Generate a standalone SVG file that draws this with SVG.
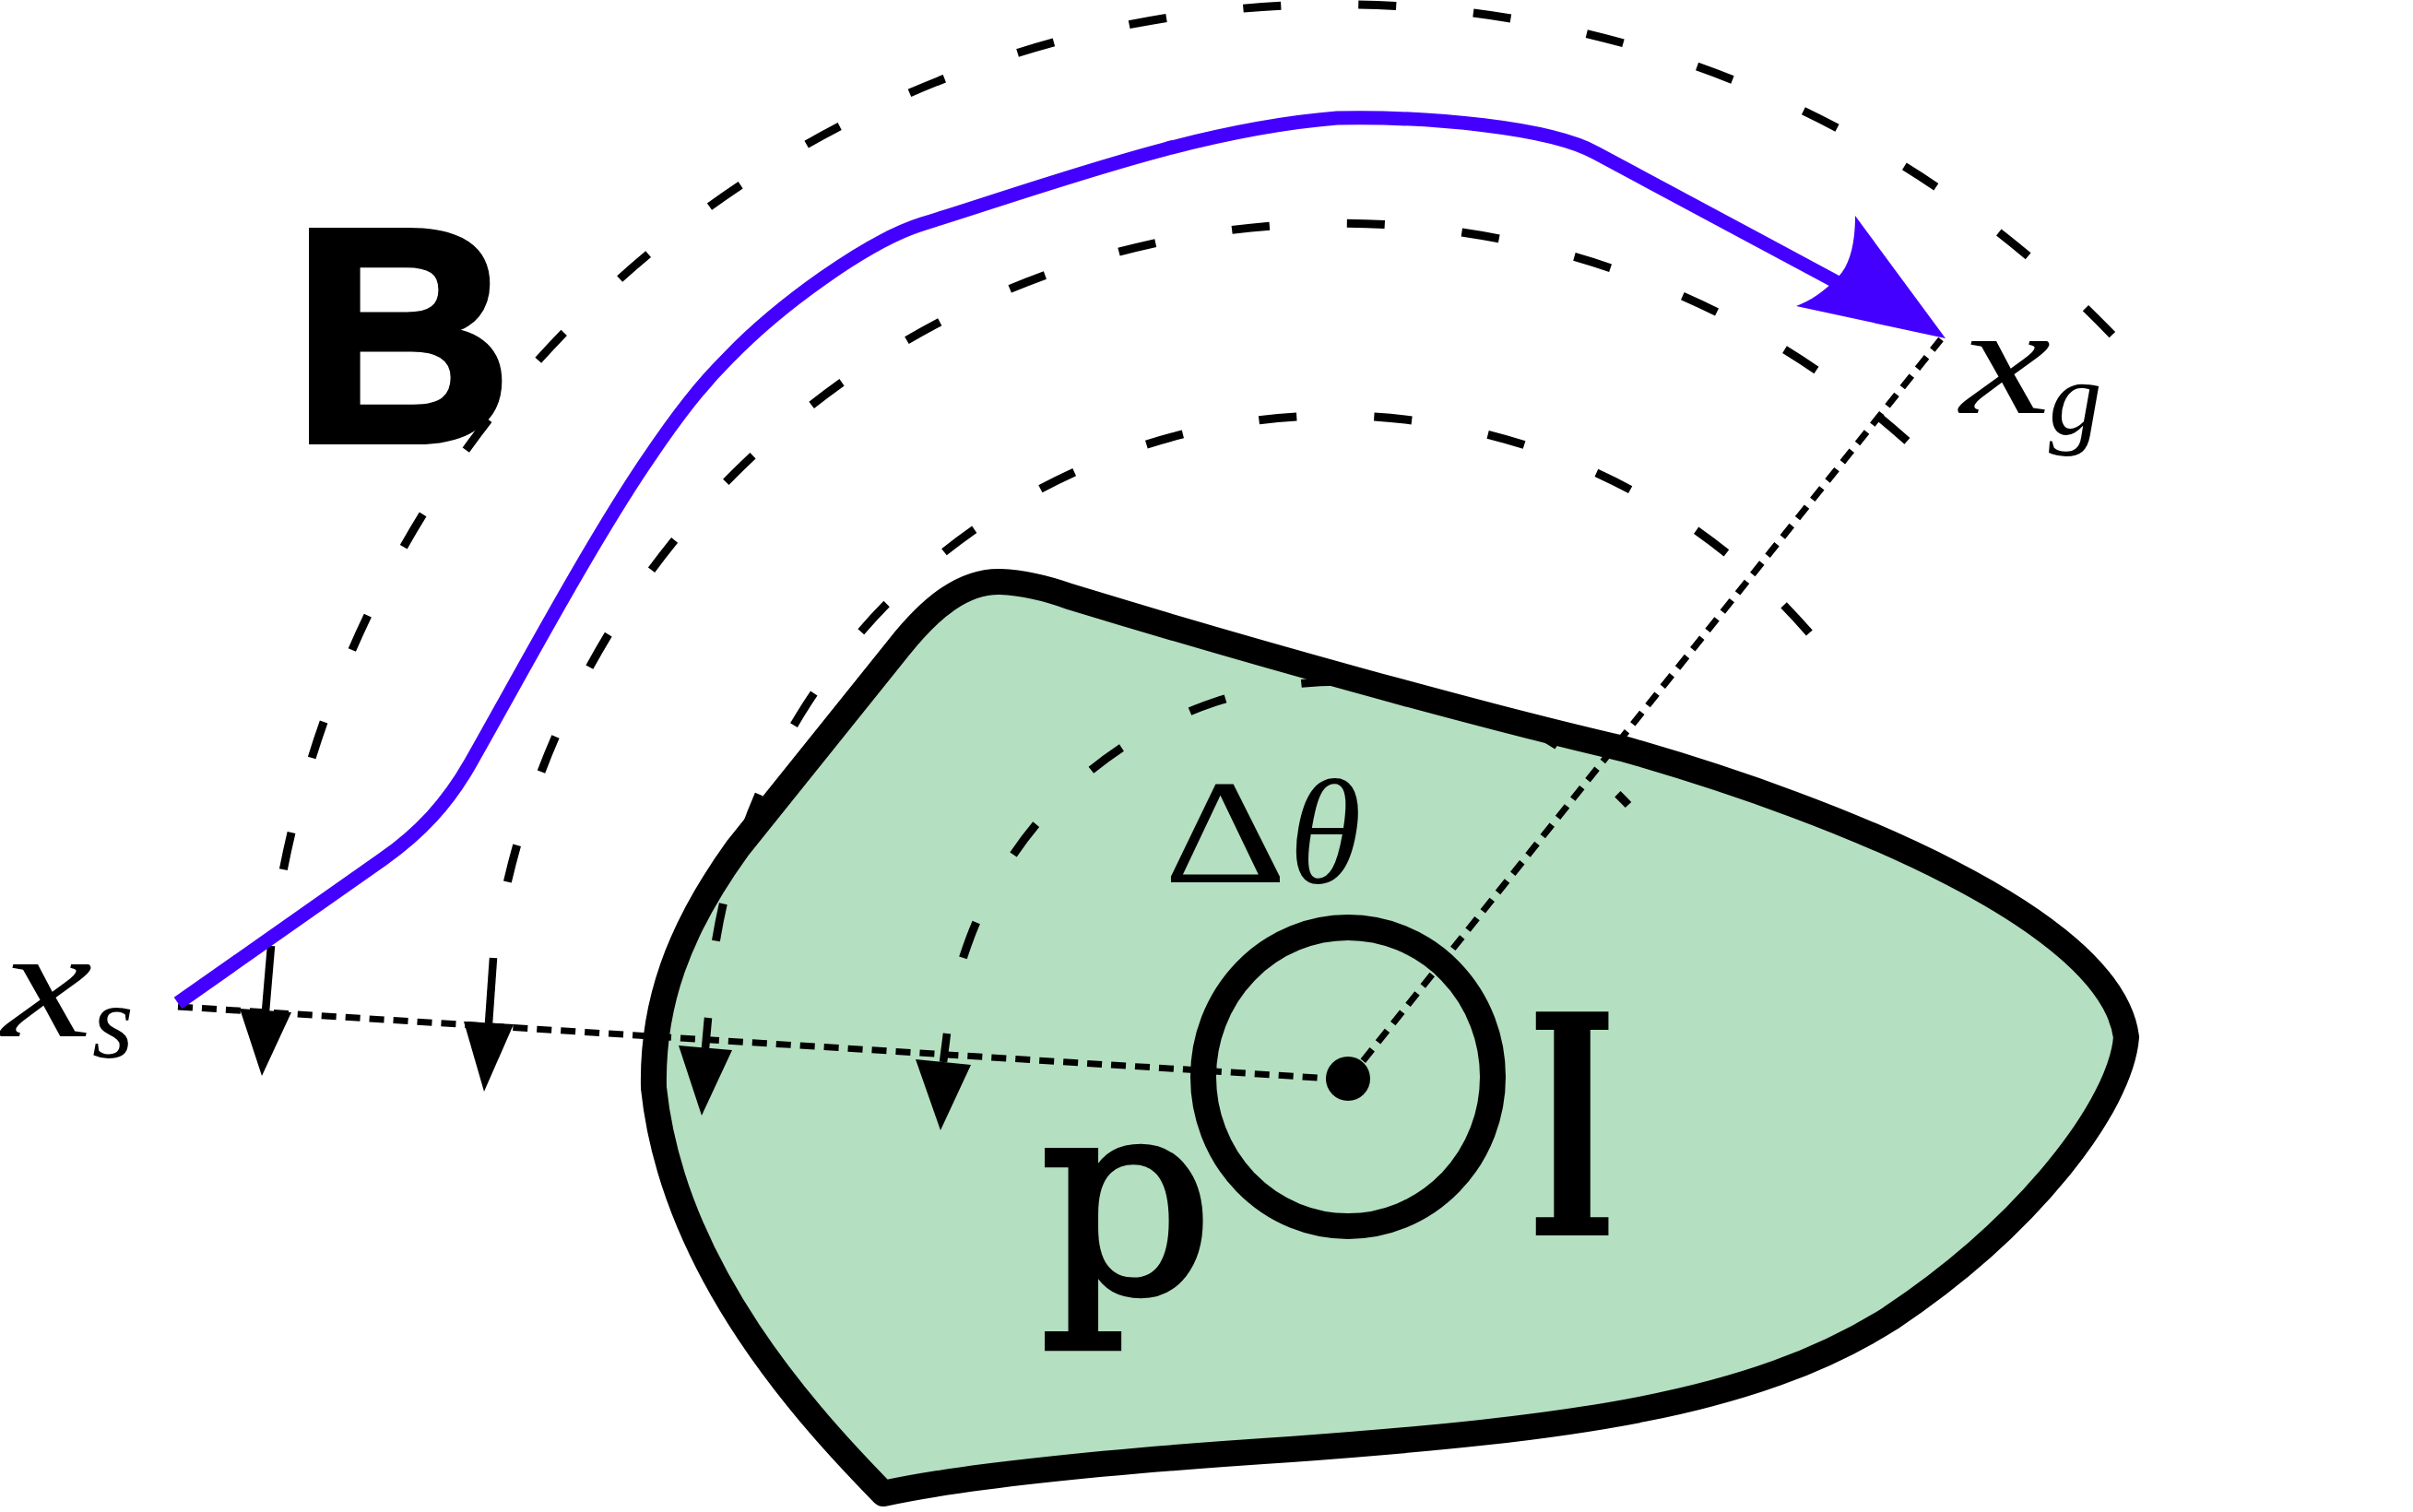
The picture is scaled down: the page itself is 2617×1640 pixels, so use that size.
<svg xmlns="http://www.w3.org/2000/svg" width="2617" height="1640" viewBox="0 0 2617 1640">
<style>
.region{fill:#b4dfc0;stroke:#000;stroke-width:28;stroke-linejoin:round}
.arc{fill:none;stroke:#000;stroke-width:9;stroke-dasharray:41 84;stroke-dashoffset:41}
.shaft{fill:none;stroke:#000;stroke-width:8.5}
.head{fill:#000}
.dotted{fill:none;stroke:#000;stroke-width:7;stroke-dasharray:16 10}
.path{fill:none;stroke:#4400ff;stroke-width:15;stroke-linejoin:round}
.math{font-family:"Liberation Serif","DejaVu Serif",serif;font-style:italic;fill:#000}
.rm{font-family:"Liberation Serif","DejaVu Serif",serif;fill:#000}
.tt{font-family:"DejaVu Serif","Liberation Serif",serif;fill:#000;text-anchor:middle}
</style>
<rect width="2617" height="1640" fill="#fff"/>
<g id="region-P">
<path class="region" d="M 958 1620 C 880 1540 730 1380 709 1180 C 707 1090 735 1010 800 920 L 975 702 C 1010 658 1045 630 1085 631 C 1110 632 1135 638 1160 647 C 1350 705 1600 775 1760 812 C 2000 880 2290 1000 2306 1125 C 2300 1200 2200 1330 2050 1430 C 1900 1525 1700 1550 1400 1572 C 1200 1585 1050 1600 958 1620 Z"/>
</g>
<g id="connectors">
<path class="arc" d="M 294 1026 A 1165 1165 0 0 1 2322 397"/>
<path class="arc" d="M 535 1039 A 925 925 0 0 1 2100 508"/>
<path class="arc" d="M 768 1104 A 680 680 0 0 1 1972 698"/>
<path class="arc" d="M 1027 1121 A 430 430 0 0 1 1766 873"/>
<line class="shaft" x1="294" y1="1026" x2="288" y2="1097"/>
<polygon class="head" points="260,1094 316,1098 284,1167"/>
<line class="shaft" x1="535" y1="1039" x2="530" y2="1110"/>
<polygon class="head" points="503,1108 557,1111 525,1184"/>
<line class="shaft" x1="768" y1="1104" x2="765" y2="1137"/>
<polygon class="head" points="736,1134 794,1139 761,1210"/>
<line class="shaft" x1="1027" y1="1121" x2="1023" y2="1152"/>
<polygon class="head" points="993,1149 1053,1155 1020,1226"/>
<line class="dotted" x1="193" y1="1092" x2="1462" y2="1171"/>
<line class="dotted" x1="1462" y1="1171" x2="2105" y2="368"/>
<path class="path" d="M 193 1088 L 415 932 C 455 904 485 872 510 828 C 560 740 640 590 702 499 C 735 450 760 418 790 388 C 845 331 940 262 1000 243 C 1150 196 1300 140 1450 128 C 1550 126 1681 138 1731 166 L 1992 306"/>
<path fill="#4400ff" d="M 2110 367 L 2012 234 C 2012 270 2004 292 1990 304 C 1978 316 1964 326 1948 332 Z"/>
</g>
<g id="node-I">
<ellipse cx="1462" cy="1168" rx="157" ry="162" fill="none" stroke="#000" stroke-width="28"/>
<circle cx="1462" cy="1170" r="24" fill="#000"/>
</g>
<g id="labels">
<text x="317" y="478" font-family="Liberation Sans, Arial, sans-serif" font-weight="bold" font-size="330" stroke="#000" stroke-width="8" fill="#000">B</text>
<text class="math" transform="translate(2 1124) scale(1.3 1)" font-size="170">x</text>
<text class="math" x="100" y="1147" font-size="115">s</text>
<text class="math" transform="translate(2126 448) scale(1.3 1)" font-size="170">x</text>
<text class="math" x="2222" y="471" font-size="115">g</text>
<text class="rm" transform="translate(1262 957) scale(1.3 1)" font-size="160">Δ</text>
<text class="math" x="1398" y="957" font-size="160">θ</text>
<text class="tt" x="1222" y="1401" font-size="295" stroke="#000" stroke-width="6">p</text>
<text class="tt" transform="translate(1705 1340) scale(0.63 1)" font-size="333" font-weight="bold">I</text>
</g>
</svg>
